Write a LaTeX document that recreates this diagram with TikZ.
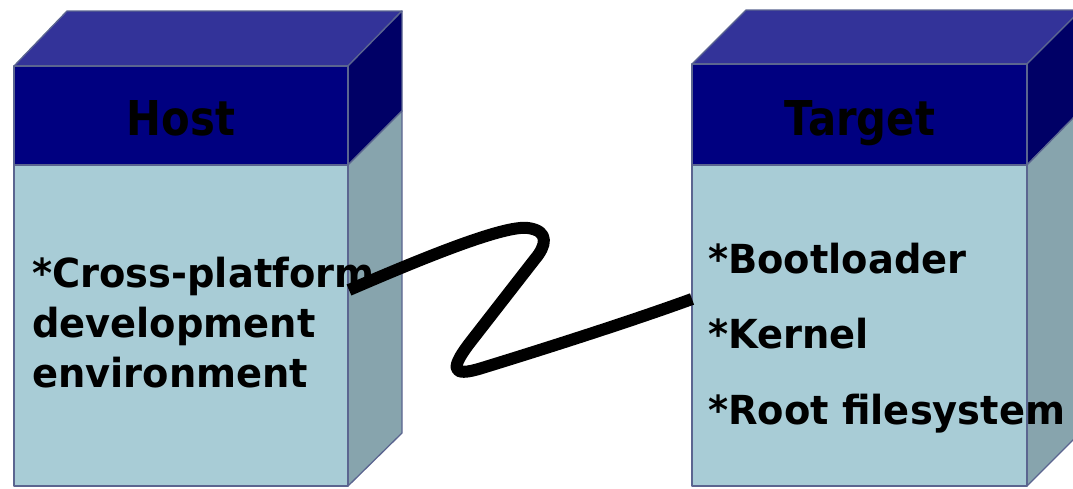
\documentclass[tikz,border=0pt]{standalone}
\usepackage{fontspec}
\newfontfamily\titlefont{DejaVu Sans}[FakeStretch=0.87]
\newfontfamily\bodyfont{DejaVu Sans}[FakeStretch=0.96]
\definecolor{topface}{HTML}{333399}
\definecolor{frontdark}{HTML}{000080}
\definecolor{sidedark}{HTML}{000066}
\definecolor{frontlight}{HTML}{A8CCD6}
\definecolor{sidelight}{HTML}{87A4AD}
\definecolor{edge}{HTML}{5B6590}
\tikzset{
  face/.style={draw=edge, line width=1.3pt, line join=round},
  title/.style={font=\titlefont\bfseries\fontsize{48}{48}\selectfont, text=black, inner sep=0pt, anchor=base},
  body/.style={font=\bodyfont\bfseries\fontsize{40}{40}\selectfont, text=black, inner sep=0pt, anchor=base west},
  cable/.style={line width=12pt, black, line join=round}
}
\begin{document}
\begin{tikzpicture}[x=1pt,y=-1pt]
\useasboundingbox (0,0) rectangle (1073,488);
% ---------- Host box ----------
\fill[face, fill=topface] (14,66) -- (67,11) -- (402,11) -- (348,66) -- cycle;
\fill[face, fill=sidedark] (348,66) -- (402,11) -- (402,111) -- (348,165) -- cycle;
\fill[face, fill=sidelight] (348,165) -- (402,111) -- (402,433) -- (348,486) -- cycle;
\fill[face, fill=frontdark] (14,66) rectangle (348,165);
\fill[face, fill=frontlight] (14,165) rectangle (348,486);
% ---------- Target box ----------
\fill[face, fill=topface] (692,64) -- (746,10) -- (1081,10) -- (1027,64) -- cycle;
\fill[face, fill=sidedark] (1027,64) -- (1081,10) -- (1081,110) -- (1027,165) -- cycle;
\fill[face, fill=sidelight] (1027,165) -- (1081,110) -- (1081,432) -- (1027,486) -- cycle;
\fill[face, fill=frontdark] (692,64) rectangle (1027,165);
\fill[face, fill=frontlight] (692,165) rectangle (1027,486);
% ---------- titles ----------
\node[title] (hosttitle) at (181,135) {Host};
\node[title] (targettitle) at (860,135) {Target};
% ---------- connector ----------
\coordinate (hostport) at (349,290);
\coordinate (targetport) at (692,299);
\draw[cable] (hostport) .. controls (430,255) and (505,225) .. (528,228)
  .. controls (550,231) and (546,246) .. (535,259)
  -- (472,340)
  .. controls (450,368) and (450,378) .. (482,368)
  .. controls (560,344) and (640,318) .. (targetport);
% ---------- body texts ----------
\node[body] (h1) at (32,287) {*Cross-platform};
\node[body] (h2) at (32,337) {development};
\node[body] (h3) at (32,387) {environment};
\node[body] (t1) at (708,273) {*Bootloader};
\node[body] (t2) at (708,348) {*Kernel};
\node[body] (t3) at (708,424) {*Root filesystem};
\end{tikzpicture}
\end{document}
